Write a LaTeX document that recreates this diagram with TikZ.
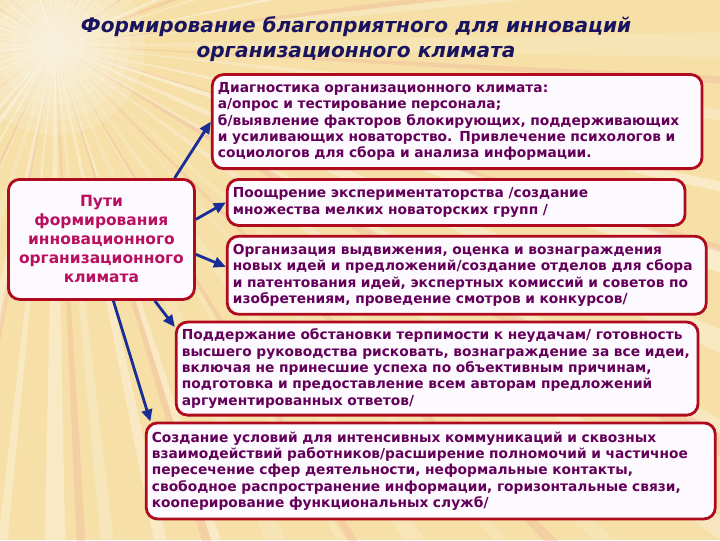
\documentclass[tikz,border=0pt]{standalone}
\usepackage{fontspec}
\setmainfont{DejaVu Sans}
\usepackage{tikz}
\usetikzlibrary{arrows.meta,positioning}
\definecolor{fond}{RGB}{246,224,168}
\definecolor{rayon}{RGB}{238,168,150}
\definecolor{rim}{RGB}{175,10,30}
\definecolor{ink}{RGB}{100,0,90}
\definecolor{rosy}{RGB}{185,15,95}
\definecolor{navy}{RGB}{25,20,95}
\definecolor{arrowblue}{RGB}{25,45,150}
\definecolor{boxfill}{RGB}{253,250,255}

\begin{document}
\begin{tikzpicture}[x=0.025cm,y=-0.025cm,
  box/.style={rectangle,rounded corners=8pt,draw=rim,line width=2pt,fill=boxfill,
              text=ink,font=\fontsize{9.8}{11.6}\selectfont\bfseries,align=left,
              inner xsep=4pt,anchor=north west},
  arr/.style={-{Triangle[length=8.5pt,width=7.5pt]},line width=2pt,color=arrowblue}
]

  % Fond
  \useasboundingbox (0,0) rectangle (720,540);
  \fill[fond] (0,0) rectangle (720,540);
  \begin{scope}
    \clip (0,0) rectangle (720,540);
    \pgfmathsetseed{7}
    \foreach \a in {0,6,...,359} {
      \pgfmathsetmacro{\w}{0.3+0.9*rnd}
      \pgfmathsetmacro{\o}{0.1+0.3*rnd}
      \fill[white,opacity=\o] (55,45) -- +(\a-\w:950) -- +(\a+\w:950) -- cycle;
    }
    \foreach \a in {3,17,...,359} {
      \pgfmathsetmacro{\w}{0.2+0.6*rnd}
      \fill[rayon,opacity=0.3] (55,45) -- +(\a-\w:950) -- +(\a+\w:950) -- cycle;
    }
    \foreach \r in {90,75,...,15}
      \fill[white,opacity=0.14] (55,45) circle (\r);
  \end{scope}

  % Titre
  \node[text=navy,align=center,font=\fontsize{14.3}{18}\selectfont\bfseries\itshape]
    (title) at (356,39) {Формирование благоприятного для инноваций\\организационного климата};

  % Gauche
  \node[box,minimum width=4.65cm,minimum height=3cm,align=center,text=rosy,
        font=\fontsize{11}{13.5}\selectfont\bfseries]
    (puti) at (7,178) {Пути\\формирования\\инновационного\\организационного\\климата};

  % Droite
  \node[box,right=0.75cm of puti.north east,anchor=north west,
        minimum width=11.425cm,text width=11.16cm,minimum height=1.15cm]
    (pooshch) {Поощрение экспериментаторства /создание\\множества мелких новаторских групп /};

  \node[box,above=0.2cm of pooshch.north west,anchor=south west,xshift=-0.375cm,
        minimum width=12.225cm,text width=11.96cm,minimum height=2.35cm]
    (diag) {Диагностика организационного климата:\\а/опрос и тестирование персонала;\\б/выявление факторов блокирующих, поддерживающих\\и усиливающих новаторство. Привлечение психологов и\\социологов для сбора и анализа информации.};

  \node[box,below=0.2cm of pooshch.south west,anchor=north west,
        minimum width=11.95cm,text width=11.69cm,minimum height=1.95cm]
    (org) {Организация выдвижения, оценка и вознаграждения\\новых идей и предложений/создание отделов для сбора\\и патентования идей, экспертных комиссий и советов по\\изобретениям, проведение смотров и конкурсов/};

  % Bas
  \node[box,below=0.125cm of org.south west,anchor=north west,xshift=-1.275cm,
        minimum width=13.025cm,text width=12.76cm,minimum height=2.325cm]
    (podd) {Поддержание обстановки терпимости к неудачам/ готовность\\высшего руководства рисковать, вознаграждение за все идеи,\\включая не принесшие успеха по объективным причинам,\\подготовка и предоставление всем авторам предложений\\аргументированных ответов/};

  \node[box,below=0.125cm of podd.south west,anchor=north west,xshift=-0.75cm,
        minimum width=14.2cm,text width=13.94cm,minimum height=2.4cm]
    (sozd) {Создание условий для интенсивных коммуникаций и сквозных\\взаимодействий работников/расширение полномочий и частичное\\пересечение сфер деятельности, неформальные контакты,\\свободное распространение информации, горизонтальные связи,\\кооперирование функциональных служб/};

  % Flèches
  \draw[arr] (puti.40)--(diag.west);
  \draw[arr] (puti.12)--(pooshch.west);
  \draw[arr] (puti.-9)--(org.178);
  \draw[arr] (puti.-49)--(podd.171);
  \draw[arr] (puti.-79)--(sozd.170);

\end{tikzpicture}
\end{document}
